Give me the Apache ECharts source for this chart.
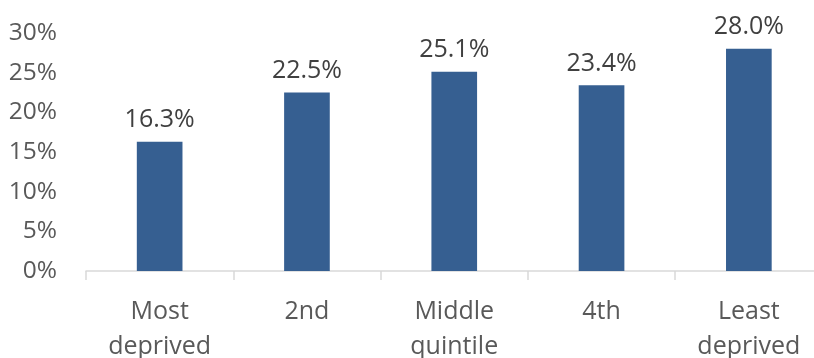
<!DOCTYPE html>
<html><head><meta charset="utf-8">
<script src="https://cdn.jsdelivr.net/npm/echarts@6/dist/echarts.min.js"></script>
<style>html,body{margin:0;padding:0;background:#fff}#c{width:814px;height:358px}</style>
</head><body><div id="c"></div>
<script>
const categories = ['Most\ndeprived', '2nd', 'Middle\nquintile', '4th', 'Least\ndeprived'];
const values = [16.3, 22.5, 25.1, 23.4, 28.0];
const yTicks = [0, 5, 10, 15, 20, 25, 30];

const chart = echarts.init(document.getElementById('c'));
chart.setOption({
  animation: false,
  grid: {left: 86, right: -8.5, top: 33, bottom: 87, containLabel: false, outerBoundsMode: 'none'},
  xAxis: {
    type: 'category', data: categories,
    axisLine: {lineStyle: {color: '#D9D9D9', width: 1.5}},
    axisTick: {show: true, length: 9, lineStyle: {color: '#D9D9D9', width: 1.5}},
    axisLabel: {color: '#595959', fontFamily: 'Open Sans', fontSize: 25, margin: 23, lineHeight: 35, interval: 0}
  },
  yAxis: {
    type: 'value', min: yTicks[0], max: yTicks[yTicks.length - 1], interval: 5,
    splitLine: {show: false}, axisLine: {show: false}, axisTick: {show: false},
    axisLabel: {color: '#595959', fontFamily: 'Open Sans', fontSize: 24.5, margin: 29, formatter: v => v + '%'}
  },
  series: [{
    type: 'bar', data: values, barWidth: '31%',
    itemStyle: {color: '#365F91'},
    label: {show: true, position: 'top', distance: 9, color: '#404040', fontFamily: 'Open Sans', fontSize: 25,
      formatter: p => p.value.toFixed(1) + '%'}
  }]
});
</script></body></html>
